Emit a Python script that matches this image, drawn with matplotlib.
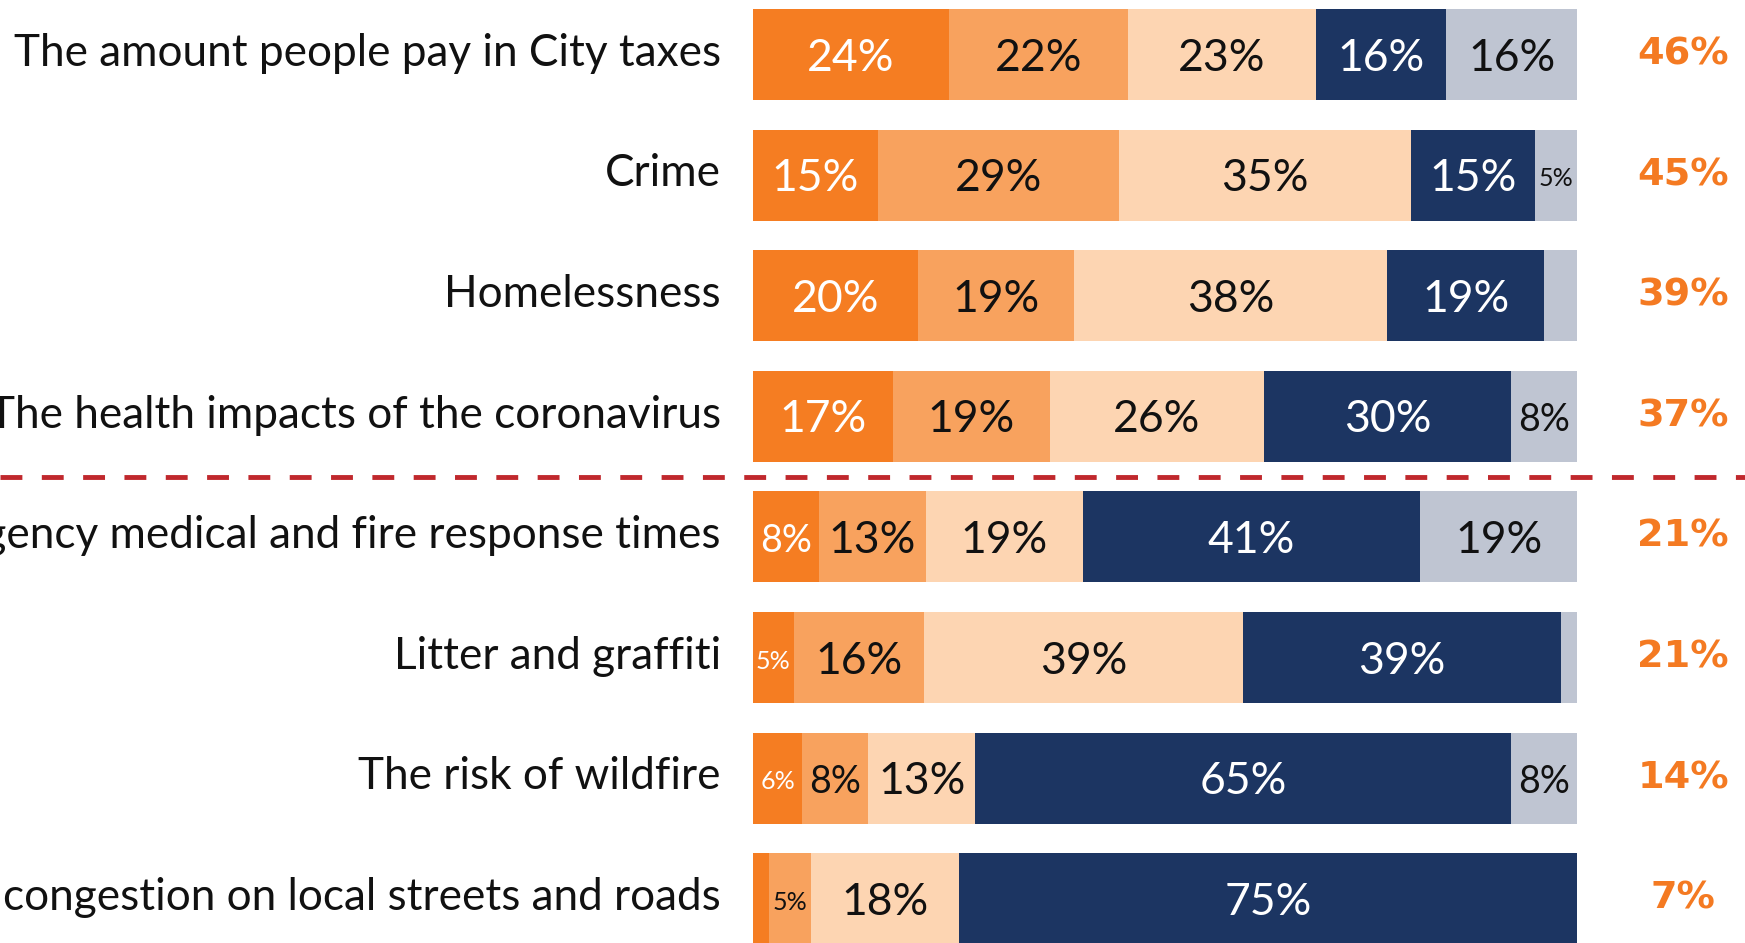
import numpy as np
import matplotlib
matplotlib.use("Agg")
import matplotlib.pyplot as plt
from matplotlib.lines import Line2D
from matplotlib.transforms import blended_transform_factory

plt.rcParams['font.family'] = ['Lato', 'DejaVu Sans']

labels = ['The amount people pay in City taxes',
          'Crime',
          'Homelessness',
          'The health impacts of the coronavirus',
          'Emergency medical and fire response times',
          'Litter and graffiti',
          'The risk of wildfire',
          'Traffic congestion on local streets and roads']

very_serious = [24, 15, 20, 17, 8, 5, 6, 2]
fairly_serious = [22, 29, 19, 19, 13, 16, 8, 5]
somewhat_serious = [23, 35, 38, 26, 19, 39, 13, 18]
not_serious = [16, 15, 19, 30, 41, 39, 65, 75]
dont_know = [16, 5, 4, 8, 19, 2, 8, 0]
totals = [46, 45, 39, 37, 21, 21, 14, 7]

colors = ['#F57D22', '#F8A25E', '#FDD5B2', '#1C3562', '#BFC5D2']
text_colors = ['white', '#111111', '#111111', 'white', '#111111']

data = np.array([very_serious, fairly_serious, somewhat_serious,
                 not_serious, dont_know], dtype=float).T
shares = data / data.sum(axis=1, keepdims=True) * 100

fig = plt.figure(figsize=(17.45, 9.43), dpi=100)
ax = fig.add_axes([753 / 1745, 0, 824 / 1745, 1])

y = np.arange(len(labels))
left = np.zeros(len(labels))
for k in range(5):
    ax.barh(y, shares[:, k], left=left, height=0.755, color=colors[k],
            edgecolor='none')
    for i in range(len(labels)):
        v = data[i, k]
        w = shares[i, k]
        if v >= 5 and w > 3:
            size = 32 if v >= 10 else 18
            if v == 8:
                size = 27
            ax.text(left[i] + w / 2, i + 0.03, '%d%%' % v, ha='center',
                    va='center', color=text_colors[k], fontsize=size)
    left += shares[:, k]

for i, lab in enumerate(labels):
    ax.text(-3.9, i - 0.01, lab, ha='right', va='center', fontsize=31.8,
            color='#111111', clip_on=False)
    ax.text(112.9, i, '%d%%' % totals[i], ha='center', va='center',
            fontsize=27.5, fontweight='bold', color='#F47A22',
            family='DejaVu Sans', clip_on=False)

tr = blended_transform_factory(fig.transFigure, ax.transData)
fig.add_artist(Line2D([0, 1], [3.5, 3.5], transform=tr, color='#C0282D',
                      linewidth=3.5, linestyle=(0, (4.5, 4))))

ax.set_xlim(0, 100)
ax.set_ylim(7.367, -0.452)
ax.axis('off')

fig.savefig('out.png', dpi=100, facecolor='white')
